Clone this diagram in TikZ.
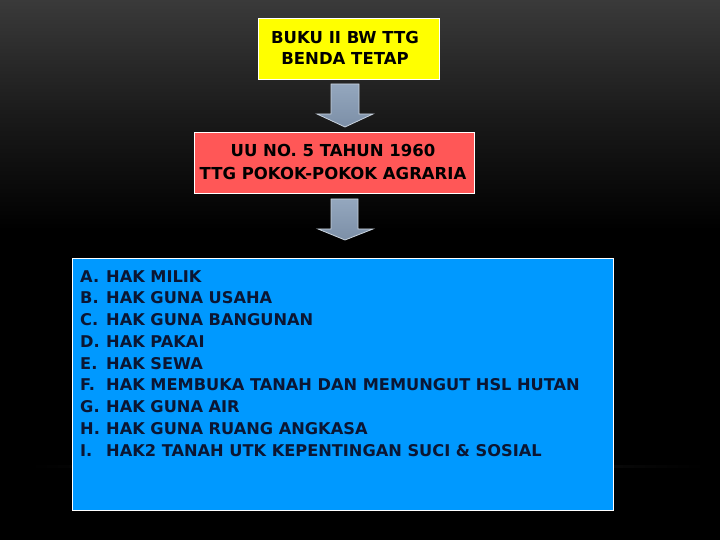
\documentclass[tikz,border=0pt]{standalone}
\usepackage{fontspec}
\setmainfont{DejaVu Sans}
\usetikzlibrary{calc}
\definecolor{bukuyellow}{HTML}{FFFF00}
\definecolor{uured}{HTML}{FF5757}
\definecolor{listblue}{HTML}{0099FF}
\definecolor{arrowtop}{HTML}{94A7BE}
\definecolor{arrowbot}{HTML}{7C8FA7}
\definecolor{arrowline}{HTML}{C9D3DE}
\definecolor{navytext}{HTML}{0B1633}
\definecolor{glow}{HTML}{3A3A3A}
\tikzset{
  boxshape/.style={draw=white, line width=0.9pt, inner sep=0pt},
  boxtext/.style={font=\bfseries\fontsize{16.5}{20}\selectfont, text=black, anchor=base, inner sep=0pt},
  itemtext/.style={font=\bfseries\fontsize{16.2}{20}\selectfont, text=navytext, anchor=base west, inner sep=0pt},
  blockarrow/.style={top color=arrowtop, bottom color=arrowbot, draw=arrowline, line width=0.8pt, line join=miter}
}
\begin{document}
\begin{tikzpicture}[x=1pt,y=-1pt]
\useasboundingbox (0,0) rectangle (720,540);
\fill[black] (0,0) rectangle (720,540);
\shade[top color=glow, bottom color=black, middle color=glow!45!black] (0,0) rectangle (720,230);
% faint floor line
\shade[left color=black, right color=black, middle color=black!88!white] (30,465.5) rectangle (705,467);

% boxes
\node[boxshape, fill=bukuyellow, minimum width=181pt, minimum height=61pt] (buku) at (348.5,48.5) {};
\node[boxshape, fill=uured, minimum width=280pt, minimum height=61pt] (uu) at (334.5,162.5) {};
\node[boxshape, fill=listblue, minimum width=541pt, minimum height=252pt] (list) at (342.5,384) {};

% texts
\node[boxtext] (buku1) at (345,44) {BUKU II BW TTG};
\node[boxtext] (buku2) at (345,65) {BENDA TETAP};
\node[boxtext] (uu1) at (333,157) {UU NO. 5 TAHUN 1960};
\node[boxtext] (uu2) at (333,180) {TTG POKOK-POKOK AGRARIA};

% block arrows
\draw[blockarrow] (331,84) -- (359,84) -- (359,114) -- (373,114) -- (345,127) -- (317,114) -- (331,114) -- cycle;
\draw[blockarrow] (331,199) -- (358,199) -- (358,229) -- (373,229) -- (345,240) -- (318,229) -- (331,229) -- cycle;

% list
\foreach \L/\T [count=\i from 0] in {A./HAK MILIK, B./HAK GUNA USAHA, C./HAK GUNA BANGUNAN, D./HAK PAKAI, E./HAK SEWA, F./HAK MEMBUKA TANAH DAN MEMUNGUT HSL HUTAN, G./HAK GUNA AIR, H./HAK GUNA RUANG ANGKASA, I./HAK2 TANAH UTK KEPENTINGAN SUCI \& SOSIAL}{
  \node[itemtext] (lab\i) at (80,282+21.75*\i) {\L};
  \node[itemtext] (item\i) at (106,282+21.75*\i) {\T};
}
\end{tikzpicture}
\end{document}
